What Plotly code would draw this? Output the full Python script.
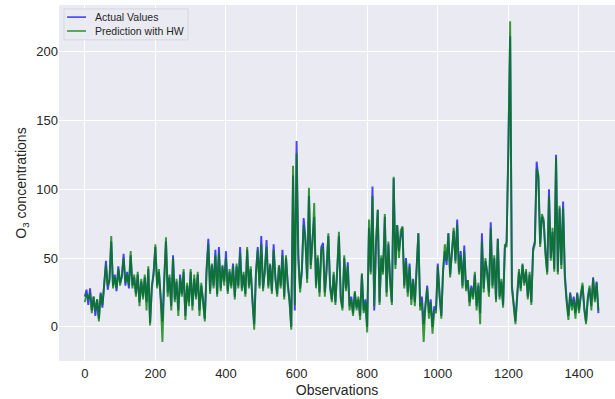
import plotly.graph_objects as go

STEP = 5  # observations between stored samples

actual_values = [
    22, 27, 16, 28, 12, 22, 8, 20, 6, 25, 14, 30, 48, 27, 35, 62, 30, 38, 26, 44,
    32, 36, 53, 30, 40, 28, 52, 30, 36, 24, 38, 18, 33, 22, 36, 18, 42, 3, 28, 40,
    58, 30, 40, 22, 4, 35, 62, 25, 36, 15, 52, 20, 33, 12, 38, 24, 40, 8, 30, 18,
    40, 15, 35, 22, 38, 12, 30, 20, 6, 42, 64, 26, 45, 30, 56, 24, 58, 28, 44, 33,
    55, 26, 40, 30, 46, 22, 44, 30, 58, 28, 38, 24, 56, 30, 42, 20, 2, 40, 58, 30,
    66, 28, 40, 63, 30, 45, 26, 60, 35, 24, 44, 30, 56, 22, 50, 32, 20, 0, 110, 12,
    135, 52, 28, 40, 79, 65, 35, 95, 45, 64, 80, 30, 50, 25, 58, 61, 25, 40, 66, 30,
    20, 38, 18, 40, 66, 22, 14, 50, 28, 47, 15, 22, 10, 25, 14, 20, 8, 38, 12, 20,
    0, 72, 40, 102, 12, 60, 85, 18, 50, 40, 80, 25, 60, 35, 18, 108, 45, 74, 55, 66,
    72, 30, 50, 25, 46, 20, 35, 18, 48, 68, 15, 22, 2, 18, 30, 10, 20, 0, 15, 12,
    46, 22, 8, 40, 55, 45, 68, 38, 55, 70, 48, 78, 40, 55, 30, 59, 28, 34, 18, 30,
    22, 38, 15, 30, 10, 68, 28, 48, 40, 25, 76, 30, 50, 20, 64, 22, 33, 16, 57, 62,
    132, 211, 30, 18, 4, 22, 40, 28, 45, 32, 40, 22, 38, 18, 57, 62, 120, 108, 60, 80,
    76, 55, 40, 100, 50, 69, 42, 125, 40, 86, 45, 91, 38, 20, 8, 25, 15, 22, 10, 25,
    12, 22, 30, 14, 4, 20, 28, 15, 36, 20, 33, 10,
]

predicted_values = [
    18, 24, 20, 25, 10, 22, 12, 20, 4, 24, 16, 28, 45, 30, 33, 66, 28, 36, 28, 42,
    30, 38, 50, 32, 38, 30, 55, 28, 38, 22, 40, 15, 35, 20, 38, 12, 44, 1, 30, 38,
    60, 28, 42, 20, -11, 32, 65, 22, 38, 12, 50, 18, 35, 8, 36, 22, 42, 5, 32, 15,
    42, 12, 38, 20, 40, 8, 32, 18, 4, 40, 60, 24, 46, 28, 52, 22, 54, 26, 45, 30,
    50, 24, 42, 28, 44, 20, 46, 28, 54, 26, 40, 22, 58, 28, 44, 18, -2, 38, 56, 28,
    60, 26, 42, 58, 28, 46, 24, 56, 36, 22, 45, 28, 52, 20, 52, 30, 18, -2, 117, 16,
    126, 48, 25, 42, 74, 62, 32, 101, 42, 60, 90, 28, 52, 22, 56, 58, 22, 42, 68, 28,
    18, 40, 16, 42, 69, 20, 12, 52, 26, 44, 12, 20, 8, 26, 12, 22, 5, 39, 10, 18,
    -4, 78, 38, 95, 15, 62, 85, 16, 52, 38, 82, 22, 62, 32, 16, 109, 42, 74, 50, 70,
    73, 28, 48, 22, 44, 16, 34, 15, 46, 68, 12, 18, -11, 15, 28, 6, 18, -5, 12, 10,
    44, 20, 6, 42, 60, 48, 68, 36, 58, 72, 46, 74, 38, 52, 28, 55, 26, 34, 15, 28,
    20, 40, 12, 32, 2, 62, 25, 50, 38, 22, 72, 28, 52, 18, 64, 20, 35, 14, 60, 58,
    130, 222, 28, 15, 2, 24, 42, 26, 46, 30, 42, 20, 40, 16, 55, 60, 115, 110, 58, 82,
    78, 52, 38, 95, 48, 72, 40, 123, 38, 88, 42, 86, 35, 18, 5, 24, 12, 20, 6, 24,
    10, 24, 32, 12, 2, 22, 30, 12, 35, 18, 32, 12,
]

observations = [i * STEP for i in range(len(actual_values))]

series_names = ["Actual Values", "Prediction with HW"]
series_colors = ["rgba(0,0,255,0.72)", "rgba(0,128,0,0.78)"]

x_ticks = [0, 200, 400, 600, 800, 1000, 1200, 1400]
y_ticks = [0, 50, 100, 150, 200]

FONT = "Liberation Sans, Arial, sans-serif"
TXT = "#262626"

fig = go.Figure()
for name, vals, col in zip(series_names, [actual_values, predicted_values], series_colors):
    fig.add_trace(go.Scatter(
        x=observations, y=vals, mode="lines", name=name,
        line=dict(color=col, width=1.9), showlegend=False,
    ))

# --- hand-built legend (matplotlib-like, compact) ---
shapes = [dict(
    type="rect", xref="paper", yref="paper", x0=0.009, x1=0.232, y0=0.902, y1=0.989,
    fillcolor="rgba(234,234,242,0.85)", line=dict(color="#D6D6DE", width=1), layer="above",
)]
annotations = []
legend_rows_y = [0.966, 0.927]
for name, col, yy in zip(series_names, series_colors, legend_rows_y):
    shapes.append(dict(
        type="line", xref="paper", yref="paper", x0=0.0145, x1=0.0486, y0=yy, y1=yy,
        line=dict(color=col, width=1.6), layer="above",
    ))
    annotations.append(dict(
        xref="paper", yref="paper", x=0.061, y=yy, xanchor="left", yanchor="middle",
        text=name, showarrow=False, font=dict(size=10.5, color=TXT, family=FONT),
    ))

fig.update_layout(
    width=615, height=399,
    margin=dict(l=59, r=0, t=5, b=38),
    paper_bgcolor="white",
    plot_bgcolor="#EAEAF2",
    font=dict(family=FONT, color=TXT, size=13),
    showlegend=False,
    shapes=shapes,
    annotations=annotations,
    xaxis=dict(
        range=[-73, 1502], tickvals=x_ticks, showgrid=True, gridcolor="white",
        gridwidth=1, zeroline=False, showline=False, ticks="",
        ticklabelstandoff=3,
        title=dict(text="Observations", font=dict(size=14), standoff=5),
        tickfont=dict(size=13),
    ),
    yaxis=dict(
        range=[-24.75, 233.75], tickvals=y_ticks, showgrid=True, gridcolor="white",
        gridwidth=1, zeroline=False, showline=False, ticks="",
        title=dict(text="O<sub>3</sub> concentrations", font=dict(size=14), standoff=6),
        tickfont=dict(size=13),
    ),
)

fig.write_html("out.html")
